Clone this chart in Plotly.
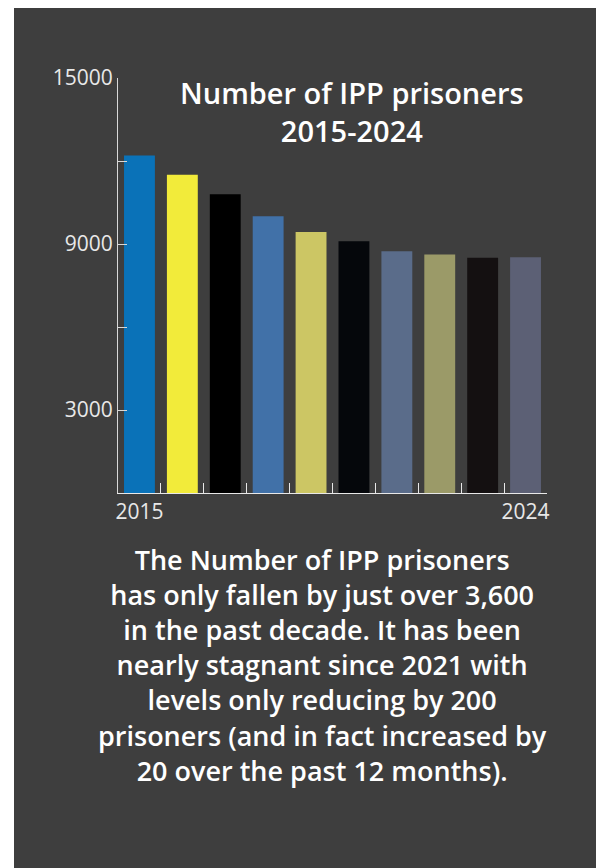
import plotly.graph_objects as go

years = ["2015", "2016", "2017", "2018", "2019", "2020", "2021", "2022", "2023", "2024"]
prisoners = [12200, 11500, 10800, 10000, 9430, 9100, 8740, 8620, 8500, 8520]
bar_colors = ["#0a72b8", "#f2eb3a", "#000000", "#4171a8", "#ccc664",
              "#05070b", "#5a6c8a", "#9b9a68", "#141011", "#5c6075"]
year_labels = ["2015", "", "", "", "", "", "", "", "", "2024"]
y_tickvals = [0, 3000, 6000, 9000, 12000, 15000]
y_ticktext = ["", "3000", "", "9000", "", "15000"]

title_text = "Number of IPP prisoners<br>2015-2024"
body_text = ("The Number of IPP prisoners<br>has only fallen by just over 3,600<br>"
             "in the past decade. It has been<br>nearly stagnant since 2021 with<br>"
             "levels only reducing by 200<br>prisoners (and in fact increased by<br>"
             "20 over the past 12 months).")

BG = "#3e3e3e"
FONT = "Open Sans"

# page has an 8px body margin; figure coordinates = screen - 8
OFF = 8
W, H = 604 - OFF, 868 - OFF
ml, mr, mt, mb = 118 - OFF, 604 - 547, 78 - OFF, 868 - 493.5
pw, ph = W - ml - mr, H - mt - mb

def px_x(x):
    return (x - OFF - ml) / pw

def px_y(y):
    return (H - mb - (y - OFF)) / ph

fig = go.Figure()
fig.add_trace(go.Bar(
    x=years, y=prisoners,
    marker=dict(color=bar_colors, line=dict(width=0)),
    hoverinfo="x+y",
))

fig.update_layout(
    width=W, height=H,
    margin=dict(l=ml, r=mr, t=mt, b=mb),
    paper_bgcolor=BG,
    plot_bgcolor=BG,
    bargap=0.28,
    showlegend=False,
    font=dict(family=FONT, color="#e8e8e8"),
    xaxis=dict(
        type="category",
        tickmode="array", tickvals=years, ticktext=year_labels,
        tickson="boundaries", tickangle=0,
        ticks="inside", ticklen=10, tickcolor="#e8e8e8", tickwidth=1,
        showline=True, linecolor="#e8e8e8", linewidth=1,
        showgrid=False, zeroline=False,
        tickfont=dict(size=21, color="#e8e8e8", family=FONT),
    ),
    yaxis=dict(
        range=[0, 15000],
        tickmode="array", tickvals=y_tickvals, ticktext=y_ticktext,
        ticks="inside", ticklen=9, tickcolor="#d8d8d8", tickwidth=1,
        showline=True, linecolor="#d8d8d8", linewidth=1,
        showgrid=False, zeroline=False,
        tickfont=dict(size=21, color="#e8e8e8", family=FONT),
    ),
    shapes=[
        dict(type="rect", xref="paper", yref="paper", layer="below",
             x0=px_x(0), x1=px_x(14), y0=px_y(880), y1=px_y(0),
             fillcolor="white", line=dict(width=0)),
    ],
    annotations=[
        dict(text=title_text, xref="paper", yref="paper",
             x=px_x(352), y=px_y(112), xanchor="center", yanchor="middle",
             showarrow=False, align="center",
             font=dict(family=FONT, size=29, color="white", weight=600)),
        dict(text=body_text, xref="paper", yref="paper",
             x=px_x(322), y=px_y(666), xanchor="center", yanchor="middle",
             showarrow=False, align="center",
             font=dict(family=FONT, size=27, color="white", weight=600)),
    ],
)

fig.write_html("out.html")
